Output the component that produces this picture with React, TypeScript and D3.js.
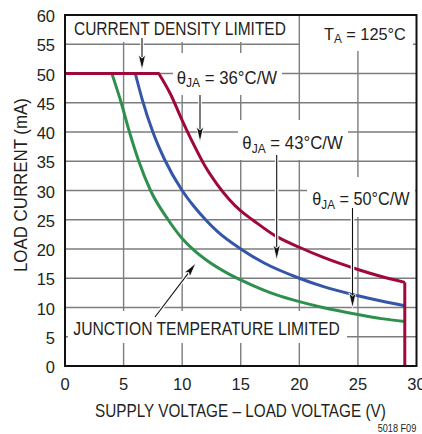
import React, { useEffect, useRef } from "react";
import * as d3 from "d3";

// ---- data ----
const xTicks = [0, 5, 10, 15, 20, 25, 30];
const yTicks = [0, 5, 10, 15, 20, 25, 30, 35, 40, 45, 50, 55, 60];

// theta JA = 36 C/W (red)
const red36: [number, number][] = [
  [0, 50], [8, 50], [9, 46.5], [10, 42], [11, 37.8], [12, 34], [13, 31], [14, 28.5],
  [15, 26.5], [16, 25], [18, 22.2], [20, 20.3], [22, 18.6], [25, 16.5], [27, 15.3], [29, 14.3],
];
const red36Drop: [number, number][] = [[29, 14.3], [29, 0]];

// theta JA = 43 C/W (blue)
const blue43: [number, number][] = [
  [0, 50], [6, 50], [6.6, 45.5], [7.5, 40], [8.5, 35.3], [10, 30], [11, 27.3], [12, 25],
  [13, 23], [15, 20], [17, 17.6], [20, 15], [22, 13.6], [25, 12], [27, 11.1], [29, 10.3],
];

// theta JA = 50 C/W (green)
const green50: [number, number][] = [
  [0, 50], [4, 50], [4.8, 45], [5.5, 40], [6.3, 35], [7.3, 30], [8.8, 25], [10, 21.8],
  [11, 19.8], [12, 18.2], [14, 15.7], [16, 13.8], [18, 12.2], [20, 11], [22, 10],
  [25, 8.8], [27, 8.1], [29, 7.6],
];

const TEXT = "#231f20";
const GRID = "#7d7d7d";
const FONT = "'Liberation Sans', Arial, sans-serif";

type Part = { t: string; sub?: boolean };

export default function App() {
  const ref = useRef<SVGSVGElement>(null);

  useEffect(() => {
    const svg = d3.select(ref.current!);
    svg.selectAll("*").remove();
    svg.attr("font-family", FONT);

    const x = d3.scaleLinear().domain([0, 30]).range([65, 416.5]);
    const y = d3.scaleLinear().domain([0, 60]).range([366, 15]);

    // grid
    const grid = svg.append("g").attr("stroke", GRID).attr("stroke-width", 1.4);
    grid.selectAll("line.v").data(xTicks.slice(1, -1)).join("line")
      .attr("x1", (d) => x(d)).attr("x2", (d) => x(d)).attr("y1", y(60)).attr("y2", y(0));
    grid.selectAll("line.h").data(yTicks.slice(1, -1)).join("line")
      .attr("x1", x(0)).attr("x2", x(30)).attr("y1", (d) => y(d)).attr("y2", (d) => y(d));

    // white label boxes that interrupt the grid
    const boxes = [
      [66, 16, 297, 42],
      [300, 16, 413, 51],
      [173, 53, 282, 95],
      [238, 120, 348, 160],
      [307, 177, 415, 217],
      [68, 311, 347, 343],
    ];
    svg.append("g").selectAll("rect").data(boxes).join("rect")
      .attr("x", (d) => d[0]).attr("y", (d) => d[1])
      .attr("width", (d) => d[2] - d[0]).attr("height", (d) => d[3] - d[1])
      .attr("fill", "#fff");

    // curves
    const lineM = d3.line<[number, number]>().x((d) => x(d[0])).y((d) => y(d[1])).curve(d3.curveMonotoneX);
    const lineL = d3.line<[number, number]>().x((d) => x(d[0])).y((d) => y(d[1]));
    const curvePath = (data: [number, number][]) => {
      const rest = lineM(data.slice(1)) || "";
      return `M${x(data[0][0])},${y(data[0][1])}L` + rest.slice(1);
    };
    const series: [[number, number][], string][] = [
      [green50, "#2f8f4e"],
      [blue43, "#3556a8"],
      [red36, "#a0073a"],
    ];
    const cg = svg.append("g").attr("fill", "none").attr("stroke-width", 3).attr("stroke-linejoin", "round");
    series.forEach(([d, c]) => cg.append("path").attr("d", curvePath(d)).attr("stroke", c));
    cg.append("path").attr("d", lineL(red36Drop)).attr("stroke", "#a0073a");

    // frame
    svg.append("rect").attr("x", x(0)).attr("y", y(60))
      .attr("width", x(30) - x(0)).attr("height", y(0) - y(60))
      .attr("fill", "none").attr("stroke", "#111").attr("stroke-width", 2);

    // tick labels
    const tl = svg.append("g").attr("fill", TEXT).attr("font-size", 16.5);
    tl.selectAll("text.y").data(yTicks).join("text")
      .attr("x", 55).attr("y", (d) => y(d) + 7).attr("text-anchor", "end").text((d) => d);
    tl.selectAll("text.x").data(xTicks).join("text")
      .attr("x", (d) => x(d)).attr("y", 390).attr("text-anchor", "middle").text((d) => d);

    // text fitted to a measured width
    const fitText = (parent: any, parts: Part[], x0: number, x1: number, base: number, size: number) => {
      const g = parent.append("g");
      const t = g.append("text").attr("x", 0).attr("y", 0).attr("font-size", size)
        .attr("fill", TEXT).style("white-space", "pre");
      let prevSub = false;
      parts.forEach((p) => {
        const ts = t.append("tspan").text(p.t);
        if (p.sub) ts.attr("font-size", size * 0.72).attr("dy", 3.5);
        else if (prevSub) ts.attr("dy", -3.5);
        prevSub = !!p.sub;
      });
      const bb = (t.node() as SVGTextElement).getBBox();
      const s = (x1 - x0) / bb.width;
      g.attr("transform", `translate(${x0 - bb.x * s},${base}) scale(${s},1)`);
      return g;
    };

    fitText(svg, [{ t: "CURRENT DENSITY LIMITED" }], 74, 286, 35, 17.5);
    fitText(svg, [{ t: "T" }, { t: "A", sub: true }, { t: " = 125°C" }], 324, 406, 39.5, 16.5);
    fitText(svg, [{ t: "θ" }, { t: "JA", sub: true }, { t: " = 36°C/W" }], 176.7, 277.7, 83.5, 17.5);
    fitText(svg, [{ t: "θ" }, { t: "JA", sub: true }, { t: " = 43°C/W" }], 242.3, 343.3, 149.3, 17.5);
    fitText(svg, [{ t: "θ" }, { t: "JA", sub: true }, { t: " = 50°C/W" }], 312.3, 410, 205, 17.5);
    fitText(svg, [{ t: "JUNCTION TEMPERATURE LIMITED" }], 73.3, 340, 335, 18);
    fitText(svg, [{ t: "SUPPLY VOLTAGE – LOAD VOLTAGE (V)" }], 95, 386, 416.7, 18.5);
    fitText(svg, [{ t: "5018 F09" }], 377.7, 416.7, 431.5, 10);
    const yt = svg.append("g").attr("transform", "translate(26.5,272) rotate(-90)");
    fitText(yt, [{ t: "LOAD CURRENT (mA)" }], 0, 174, 0, 18.5);

    // arrows
    const arrows = [
      [142, 38, 142, 70],
      [200, 95, 200, 142],
      [276.7, 155, 276.7, 260],
      [352.5, 208, 352.5, 308],
      [155, 317, 196, 263],
    ];
    const ag = svg.append("g");
    arrows.forEach(([x1, y1, x2, y2]) => {
      const dx = x2 - x1, dy = y2 - y1;
      const L = Math.hypot(dx, dy);
      const ux = dx / L, uy = dy / L;
      const hl = 15, hw = 3.6;
      const bx = x2 - ux * hl, by = y2 - uy * hl;
      ag.append("line").attr("x1", x1).attr("y1", y1).attr("x2", bx).attr("y2", by)
        .attr("stroke", "#fff").attr("stroke-width", 3.5);
      ag.append("line").attr("x1", x1).attr("y1", y1).attr("x2", bx + ux * 2).attr("y2", by + uy * 2)
        .attr("stroke", "#111").attr("stroke-width", 1.1);
      ag.append("polygon")
        .attr("points", `${x2},${y2} ${bx - uy * hw},${by + ux * hw} ${bx + ux * 3},${by + uy * 3} ${bx + uy * hw},${by - ux * hw}`)
        .attr("fill", "#111").attr("stroke", "#fff").attr("stroke-width", 0.8);
    });
  }, []);

  return (
    <svg
      ref={ref}
      width={422}
      height={434}
      style={{ position: "absolute", left: 0, top: 0, background: "#fff" }}
    />
  );
}
